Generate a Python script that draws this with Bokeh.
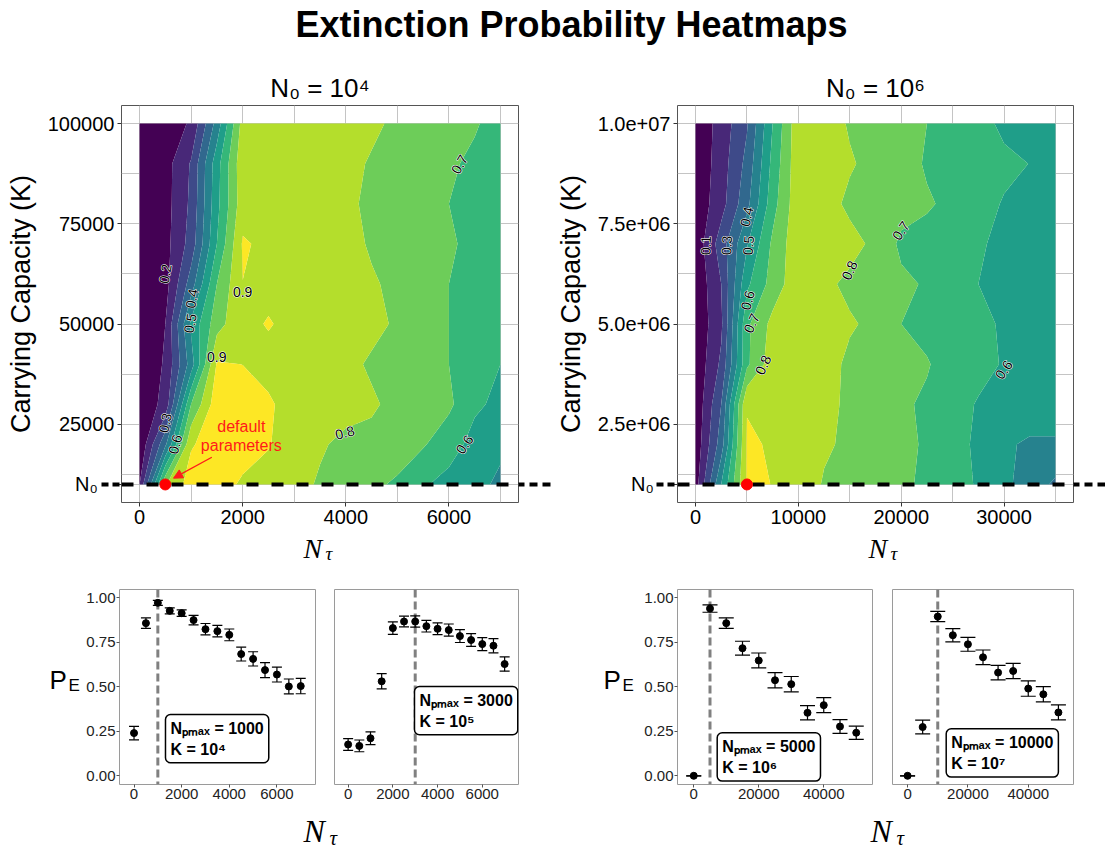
import numpy as np
from bokeh.plotting import figure
from bokeh.layouts import column, row
from bokeh.models import (Range1d, FixedTicker, Label, Arrow, NormalHead, TeeHead,
                          Whisker, Span, ColumnDataSource, NumeralTickFormatter, LinearAxis)
from bokeh.core.properties import value
from bokeh.embed import file_html
from bokeh.resources import INLINE

SANS = "Liberation Sans"
SERIF = "Liberation Serif"
NB = "\u00a0"

# ---------------------------------------------------------------- data
main_title = "Extinction Probability Heatmaps"
levels = [0.0, 0.1, 0.2, 0.3, 0.4, 0.5, 0.6, 0.7, 0.8, 0.9, 1.0]
viridis10 = ["#440154", "#482878", "#3E4A89", "#31688E", "#26828E",
             "#1F9E89", "#35B779", "#6DCD59", "#B4DE2C", "#FDE725"]

# heatmap N0 = 10^4
hm1_title = "N₀ = 10⁴"
hm1_nt = [0, 500, 1000, 1500, 2000, 2500, 3000, 3500, 4000, 4500, 5000, 5500, 6000, 6500, 7000]
hm1_k = [10000, 20000, 30000, 40000, 50000, 60000, 70000, 80000, 90000, 100000]
hm1_pe = [
    [0.10, 0.79, 0.95, 0.93, 0.89, 0.87, 0.83, 0.79, 0.77, 0.72, 0.685, 0.61, 0.57, 0.53, 0.48],
    [0.01, 0.38, 0.89, 0.95, 0.93, 0.905, 0.86, 0.81, 0.78, 0.78, 0.75, 0.71, 0.64, 0.57, 0.52],
    [0.03, 0.13, 0.70, 0.96, 0.95, 0.91, 0.87, 0.85, 0.83, 0.81, 0.78, 0.75, 0.72, 0.615, 0.58],
    [0.03, 0.11, 0.45, 0.91, 0.899, 0.876, 0.87, 0.85, 0.82, 0.79, 0.77, 0.74, 0.70, 0.65, 0.60],
    [0.02, 0.10, 0.52, 0.76, 0.88, 0.905, 0.88, 0.86, 0.84, 0.82, 0.79, 0.75, 0.70, 0.68, 0.66],
    [0.02, 0.06, 0.35, 0.70, 0.899, 0.88, 0.87, 0.86, 0.84, 0.81, 0.78, 0.74, 0.70, 0.68, 0.66],
    [0.02, 0.065, 0.24, 0.60, 0.91, 0.88, 0.87, 0.85, 0.83, 0.79, 0.77, 0.74, 0.71, 0.68, 0.66],
    [0.02, 0.06, 0.22, 0.57, 0.86, 0.87, 0.86, 0.85, 0.82, 0.78, 0.76, 0.73, 0.70, 0.67, 0.65],
    [0.02, 0.06, 0.21, 0.56, 0.87, 0.87, 0.86, 0.85, 0.83, 0.79, 0.77, 0.74, 0.715, 0.68, 0.66],
    [0.01, 0.03, 0.115, 0.44, 0.84, 0.86, 0.86, 0.85, 0.84, 0.82, 0.78, 0.76, 0.73, 0.71, 0.66],
]
hm1_xticks = [0, 2000, 4000, 6000]
hm1_xminor = [1000, 3000, 5000, 7000]
hm1_yticks = [10000, 25000, 50000, 75000, 100000]
hm1_ytick_labels = ["N₀" + NB * 3, "25000", "50000", "75000", "100000"]
hm1_yminor = [12500, 37500, 62500, 87500]
hm1_default_nt = [500]
hm1_default_k = [10000]
hm1_lab_text = ["0.2", "0.4", "0.5", "0.9", "0.9", "0.3", "0.6", "0.8", "0.7", "0.6"]
hm1_lab_x = [497, 1013, 981, 2000, 1497, 497, 690, 3981, 6206, 6303]
hm1_lab_y = [62560, 56360, 50160, 58010, 41900, 25370, 20000, 22890, 89830, 20000]
hm1_lab_angle = [80, 80, 80, 0, 0, 78, 75, 15, 60, 55]

# heatmap N0 = 10^6
hm2_title = "N₀ = 10⁶"
hm2_nt = [0, 2500, 5000, 7500, 10000, 12500, 15000, 17500, 20000, 22500, 25000, 27500, 30000, 32500, 35000]
hm2_k = [1e6, 2e6, 3e6, 4e6, 5e6, 6e6, 7e6, 8e6, 9e6, 1e7]
hm2_pe = [
    [0.05, 0.50, 0.91, 0.899, 0.87, 0.79, 0.77, 0.74, 0.71, 0.69, 0.64, 0.59, 0.52, 0.46, 0.38],
    [0.03, 0.35, 0.91, 0.893, 0.86, 0.815, 0.78, 0.75, 0.72, 0.69, 0.64, 0.58, 0.51, 0.49, 0.49],
    [0.02, 0.30, 0.895, 0.88, 0.86, 0.83, 0.78, 0.75, 0.71, 0.69, 0.65, 0.59, 0.56, 0.54, 0.54],
    [0.02, 0.22, 0.68, 0.86, 0.87, 0.84, 0.78, 0.75, 0.73, 0.705, 0.67, 0.64, 0.59, 0.57, 0.56],
    [0.02, 0.18, 0.68, 0.83, 0.86, 0.84, 0.81, 0.78, 0.70, 0.68, 0.66, 0.62, 0.59, 0.57, 0.56],
    [0.02, 0.20, 0.58, 0.74, 0.87, 0.82, 0.78, 0.75, 0.72, 0.69, 0.65, 0.60, 0.58, 0.57, 0.57],
    [0.03, 0.25, 0.49, 0.72, 0.87, 0.85, 0.83, 0.78, 0.68, 0.67, 0.64, 0.61, 0.58, 0.57, 0.57],
    [0.03, 0.16, 0.37, 0.66, 0.87, 0.84, 0.78, 0.76, 0.74, 0.71, 0.68, 0.65, 0.59, 0.57, 0.57],
    [0.02, 0.15, 0.33, 0.63, 0.87, 0.85, 0.81, 0.77, 0.74, 0.69, 0.67, 0.66, 0.63, 0.598, 0.58],
    [0.02, 0.14, 0.29, 0.60, 0.87, 0.85, 0.79, 0.77, 0.75, 0.70, 0.67, 0.65, 0.57, 0.575, 0.58],
]
hm2_xticks = [0, 10000, 20000, 30000]
hm2_xminor = [5000, 15000, 25000, 35000]
hm2_yticks = [1000000, 2500000, 5000000, 7500000, 10000000]
hm2_ytick_labels = ["N₀" + NB * 3, "2.5e+06", "5.0e+06", "7.5e+06", "1.0e+07"]
hm2_yminor = [1250000, 3750000, 6250000, 8750000]
hm2_default_nt = [5000]
hm2_default_k = [1000000]
hm2_lab_text = ["0.1", "0.3", "0.5", "0.4", "0.6", "0.7", "0.8", "0.8", "0.7", "0.6"]
hm2_lab_x = [1000, 3032, 5129, 4968, 5065, 5452, 6581, 14968, 19968, 29968]
hm2_lab_y = [6.96e6, 6.96e6, 6.96e6, 7.68e6, 5.59e6, 5.02e6, 3.98e6, 6.34e6, 7.33e6, 3.86e6]
hm2_lab_angle = [88, 88, 85, 78, 75, 65, 65, 65, 55, 55]

# bottom panels
pe_yticks = [0.0, 0.25, 0.5, 0.75, 1.0]

p1_nt = [0, 500, 1000, 1500, 2000, 2500, 3000, 3500, 4000, 4500, 5000, 5500, 6000, 6500, 7000]
p1_pe = [0.240, 0.858, 0.972, 0.927, 0.914, 0.875, 0.824, 0.813, 0.792, 0.684, 0.657, 0.594, 0.569, 0.502, 0.504]
p1_err = [0.038, 0.029, 0.014, 0.017, 0.018, 0.027, 0.032, 0.032, 0.033, 0.039, 0.040, 0.042, 0.042, 0.042, 0.043]
p1_npmax = 1000
p1_text = "Nₚₘₐₓ = 1000\nK = 10⁴"

p2_nt = [0, 500, 1000, 1500, 2000, 2500, 3000, 3500, 4000, 4500, 5000, 5500, 6000, 6500, 7000]
p2_pe = [0.176, 0.168, 0.211, 0.531, 0.830, 0.867, 0.867, 0.841, 0.826, 0.819, 0.785, 0.763, 0.740, 0.731, 0.628]
p2_err = [0.033, 0.033, 0.036, 0.043, 0.035, 0.030, 0.032, 0.033, 0.033, 0.034, 0.036, 0.036, 0.037, 0.040, 0.040]
p2_npmax = 3000
p2_text = "Nₚₘₐₓ = 3000\nK = 10⁵"

p3_nt = [0, 5000, 10000, 15000, 20000, 25000, 30000, 35000, 40000, 45000, 50000]
p3_pe = [0.000, 0.940, 0.858, 0.717, 0.648, 0.537, 0.515, 0.354, 0.397, 0.277, 0.242]
p3_err = [0.000, 0.021, 0.030, 0.039, 0.042, 0.043, 0.043, 0.040, 0.042, 0.039, 0.037]
p3_npmax = 5000
p3_text = "Nₚₘₐₓ = 5000\nK = 10⁶"

p4_nt = [0, 5000, 10000, 15000, 20000, 25000, 30000, 35000, 40000, 45000, 50000]
p4_pe = [0.000, 0.274, 0.895, 0.790, 0.739, 0.666, 0.580, 0.589, 0.490, 0.458, 0.356]
p4_err = [0.000, 0.039, 0.029, 0.037, 0.039, 0.041, 0.041, 0.043, 0.043, 0.043, 0.042]
p4_npmax = 10000
p4_text = "Nₚₘₐₓ = 10000\nK = 10⁷"


# ---------------------------------------------------------------- helpers
def strip(width, height):
    p = figure(width=width, height=height, x_range=Range1d(0, width), y_range=Range1d(0, height),
               min_border=0, toolbar_location=None, output_backend="svg", title=None,
               x_axis_location=None, y_axis_location=None, outline_line_color=None)
    for g in p.grid:
        g.visible = False
    return p


def heat(width, mbl, mbr, xr, yr, title, xs, ys, zs, xticks, xminor, yticks, ylabels, yminor,
         lab_t, lab_x, lab_y, lab_a, dnt, dk, left_ext, right_ext):
    p = figure(width=width, height=480, x_range=Range1d(*xr), y_range=Range1d(*yr),
               min_border_left=mbl, min_border_right=mbr, min_border_top=53, min_border_bottom=30,
               toolbar_location=None, output_backend="svg", title=title)
    p.title.align = "center"
    p.title.text_font = SANS
    p.title.text_font_size = "26px"
    p.title.text_font_style = "normal"
    p.title.text_color = "black"
    p.title.standoff = 6
    p.outline_line_color = "#555555"
    p.xaxis.ticker = FixedTicker(ticks=xticks, minor_ticks=xminor)
    # the y axis carries one "minor" tick at N0: the dashed line running out of the panel
    p.yaxis.ticker = FixedTicker(ticks=yticks, minor_ticks=[dk[0]])
    p.yaxis.major_label_overrides = {t: l for t, l in zip(yticks, ylabels)}
    p.ygrid.ticker = FixedTicker(ticks=yticks, minor_ticks=yminor)
    for ax in (p.xaxis, p.yaxis):
        ax.axis_line_color = None
        ax.major_tick_out = 4
        ax.major_tick_in = 0
        ax.major_tick_line_color = "#333333"
        ax.major_label_text_font = SANS
        ax.major_label_text_font_size = "20px"
        ax.major_label_text_color = "black"
        ax.major_label_standoff = 3
    p.xaxis.minor_tick_line_color = None
    p.yaxis.minor_tick_out = left_ext
    p.yaxis.minor_tick_in = 0
    p.yaxis.minor_tick_line_color = "black"
    p.yaxis.minor_tick_line_width = 4
    p.yaxis.minor_tick_line_dash = "7 4"
    p.yaxis.major_label_standoff = 7 - left_ext
    p.yaxis.axis_label = "Carrying Capacity (K)"
    p.yaxis.axis_label_text_font = SANS
    p.yaxis.axis_label_text_font_size = "27px"
    p.yaxis.axis_label_text_font_style = "normal"
    p.yaxis.axis_label_text_color = "black"
    p.yaxis.axis_label_standoff = 9
    # right-side axis with a single tick: the dashed line continuing to the right
    rax = LinearAxis(ticker=FixedTicker(ticks=[dk[0]]), major_label_overrides={dk[0]: ""},
                     axis_line_color=None, major_tick_in=0, major_tick_out=right_ext,
                     major_tick_line_width=4, major_tick_line_color="black",
                     major_tick_line_dash="8 5", minor_tick_line_color=None,
                     major_label_standoff=0)
    p.add_layout(rax, "right")
    for g in (p.xgrid, p.ygrid):
        g.grid_line_color = "#C4C4C4"
        g.minor_grid_line_color = "#C4C4C4"
    p.contour(x=xs, y=ys, z=np.array(zs), levels=levels, fill_color=viridis10, line_color=None)
    # contour labels: white halo underneath, black text on top
    ang = [np.deg2rad(a) for a in lab_a]
    p.text(x=lab_x, y=lab_y, text=lab_t, angle=ang, text_font=value(SANS), text_font_size="14px",
           text_align="center", text_baseline="middle", text_color="white",
           text_outline_color="white")
    p.text(x=lab_x, y=lab_y, text=lab_t, angle=ang, text_font=value(SANS), text_font_size="14px",
           text_align="center", text_baseline="middle", text_color="black")
    p.add_layout(Span(location=dk[0], dimension="width", line_color="black", line_width=4,
                      line_dash="12 13"))
    p.scatter(x=dnt, y=dk, size=11, color="#FF0000", level="overlay")
    return p


def small(width, mbl, mbr, xr, xticks, nt, pe, err, npmax, text, box_xy, show_y, cap):
    p = figure(width=width, height=236, x_range=Range1d(*xr), y_range=Range1d(-0.049, 1.047),
               min_border_left=mbl, min_border_right=mbr, min_border_top=19, min_border_bottom=22,
               toolbar_location=None, output_backend="svg",
               y_axis_location="left" if show_y else None)
    for g in p.grid:
        g.visible = False
    p.outline_line_color = "#9A9A9A"
    p.xaxis.ticker = FixedTicker(ticks=xticks)
    axes = [p.xaxis]
    if show_y:
        p.yaxis.ticker = FixedTicker(ticks=pe_yticks)
        p.yaxis.formatter = NumeralTickFormatter(format="0.00")
        axes.append(p.yaxis)
    for ax in axes:
        ax.axis_line_color = None
        ax.major_tick_out = 3
        ax.major_tick_in = 0
        ax.major_tick_line_color = "#555555"
        ax.minor_tick_line_color = None
        ax.major_label_text_font = SANS
        ax.major_label_text_font_size = "15px"
        ax.major_label_text_color = "#222222"
        ax.major_label_standoff = 1
    src = ColumnDataSource(dict(x=nt, pe=pe,
                                lo=[a - b for a, b in zip(pe, err)],
                                hi=[a + b for a, b in zip(pe, err)]))
    p.add_layout(Span(location=npmax, dimension="height", line_color="#808080",
                      line_width=3, line_dash="8 4", level="underlay"))
    p.add_layout(Whisker(source=src, base="x", upper="hi", lower="lo",
                         line_color="black", line_width=1.2,
                         upper_head=TeeHead(size=cap, line_color="black", line_width=1.2),
                         lower_head=TeeHead(size=cap, line_color="black", line_width=1.2)))
    p.scatter("x", "pe", source=src, size=7, color="black")
    p.add_layout(Label(x=box_xy[0], y=box_xy[1], text=text, text_font=SANS,
                       text_font_size="16px", text_font_style="bold", text_color="black",
                       text_align="left", text_baseline="top", text_line_height=1.25,
                       background_fill_color="white", border_line_color="black",
                       border_line_width=1.5, border_radius=5, padding=5))
    return p


def pe_strip(width, px):
    s = strip(width, 236)
    s.text(x=[px], y=[127], text=["P"], text_font=value(SANS), text_font_size="26px",
           text_align="left", text_baseline="middle", text_color="black")
    s.text(x=[px + 19], y=[120], text=["E"], text_font=value(SANS), text_font_size="17px",
           text_align="left", text_baseline="middle", text_color="black")
    return s


def ntau_strip(height, xs, ny, ty, nsize, tsize, tdx):
    s = strip(1105, height)
    s.text(x=xs, y=[ny] * len(xs), text=["N"] * len(xs), text_font=value(SERIF),
           text_font_style="italic", text_font_size=nsize, text_align="left",
           text_baseline="middle", text_color="black")
    s.text(x=[x + tdx for x in xs], y=[ty] * len(xs), text=["τ"] * len(xs),
           text_font=value(SERIF), text_font_style="italic", text_font_size=tsize,
           text_align="left", text_baseline="middle", text_color="black")
    return s


# ---------------------------------------------------------------- build
top = strip(1105, 52)
top.text(x=[571], y=[28], text=[main_title], text_font=value(SANS), text_font_style="bold",
         text_font_size="36px", text_align="center", text_baseline="middle", text_color="black")

h1 = heat(552, 121, 34, (-350, 7350), (5500, 104500), hm1_title, hm1_nt, hm1_k, hm1_pe,
          hm1_xticks, hm1_xminor, hm1_yticks, hm1_ytick_labels, hm1_yminor,
          hm1_lab_text, hm1_lab_x, hm1_lab_y, hm1_lab_angle,
          hm1_default_nt, hm1_default_k, 20, 32)
h1.text(x=[1974, 1974], y=[24470, 19754], text=["default", "parameters"],
        text_font=value(SANS), text_font_size="16px", text_align="center",
        text_baseline="middle", text_color="#FF1A1A")
h1.add_layout(Arrow(end=NormalHead(size=9, fill_color="#FF1A1A", line_color="#FF1A1A"),
                    x_start=1402, y_start=16776, x_end=659, y_end=11564,
                    line_color="#FF1A1A", line_width=1.3))

h2 = heat(553, 124, 32, (-1750, 36750), (550000, 10450000), hm2_title, hm2_nt, hm2_k, hm2_pe,
          hm2_xticks, hm2_xminor, hm2_yticks, hm2_ytick_labels, hm2_yminor,
          hm2_lab_text, hm2_lab_x, hm2_lab_y, hm2_lab_angle,
          hm2_default_nt, hm2_default_k, 21, 32)

mid = ntau_strip(38, [303, 868], 22.5, 17.5, "28px", "19px", 22)

f1 = small(245, 39, 10, (-610, 7620), [0, 2000, 4000, 6000], p1_nt, p1_pe, p1_err, p1_npmax,
           p1_text, (1321, 0.3443), True, 10)
f2 = small(215, 9, 22, (-610, 7620), [0, 2000, 4000, 6000], p2_nt, p2_pe, p2_err, p2_npmax,
           p2_text, (2968, 0.5016), False, 10)
f3 = small(244, 37, 12, (-5000, 55000), [0, 20000, 40000], p3_nt, p3_pe, p3_err, p3_npmax,
           p3_text, (7215, 0.2415), True, 15)
f4 = small(221, 8, 32, (-5000, 55000), [0, 20000, 40000], p4_nt, p4_pe, p4_err, p4_npmax,
           p4_text, (12802, 0.2639), False, 15)

bot = ntau_strip(43, [303, 870], 18.5, 12, "32px", "21px", 26)

layout = column(top, row(h1, h2), mid,
                row(pe_strip(80, 49), f1, f2, pe_strip(100, 63), f3, f4), bot)

with open("out.html", "w") as fh:
    fh.write(file_html(layout, INLINE))
